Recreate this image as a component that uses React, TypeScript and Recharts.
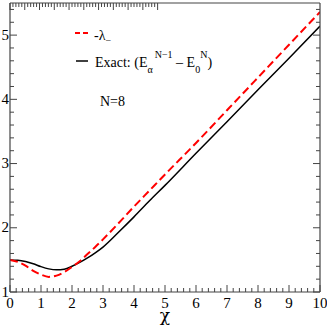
import React from 'react';
import { LineChart, Line, XAxis, YAxis } from 'recharts';

// chi values along the x axis
const chi = [0, 0.25, 0.5, 0.75, 1, 1.25, 1.5, 1.75, 2, 2.25, 2.5, 2.75, 3, 3.5, 4, 4.5, 5, 6, 7, 8, 9, 10];
// -lambda_ (red dashed)
const lambdaMinus = [1.5, 1.47, 1.41, 1.33, 1.27, 1.235, 1.255, 1.31, 1.39, 1.48, 1.59, 1.7, 1.82, 2.07, 2.33, 2.58, 2.83, 3.32, 3.83, 4.34, 4.85, 5.36];
// exact gap (black)
const exact = [1.5, 1.495, 1.475, 1.44, 1.395, 1.36, 1.345, 1.355, 1.4, 1.46, 1.53, 1.61, 1.7, 1.93, 2.17, 2.42, 2.66, 3.16, 3.65, 4.15, 4.64, 5.14];

const xMajor = [0, 1, 2, 3, 4, 5, 6, 7, 8, 9, 10];
const yMajor = [1, 2, 3, 4, 5];

const xTicks = Array.from({ length: 51 }, (_, i) => +(i * 0.2).toFixed(1));
const yTicks = Array.from({ length: 23 }, (_, i) => +(1 + i * 0.2).toFixed(1));

const data = chi.map((c, i) => ({ chi: c, lam: lambdaMinus[i], exact: exact[i] }));

const FONT = "'Liberation Serif', 'Times New Roman', serif";
const AXIS = '#444';

const isMajor = (v: number, majors: number[]) => majors.some((m) => Math.abs(m - v) < 1e-6);

const BottomTick = (props: any) => {
  const { x, y, payload } = props;
  const major = isMajor(payload.value, xMajor);
  return (
    <g>
      <line x1={x} x2={x} y1={y} y2={y - (major ? 7 : 4)} stroke={AXIS} strokeWidth={1} />
      {major && (
        <text x={x} y={y + 16} textAnchor="middle" fontSize={15} fontFamily={FONT} fill="#000">
          {payload.value}
        </text>
      )}
    </g>
  );
};

const TopTick = (props: any) => {
  const { x, y, payload } = props;
  const major = isMajor(payload.value, xMajor);
  return <line x1={x} x2={x} y1={y} y2={y + (major ? 7 : 4)} stroke={AXIS} strokeWidth={1} />;
};

const LeftTick = (props: any) => {
  const { x, y, payload } = props;
  const major = isMajor(payload.value, yMajor);
  return (
    <g>
      <line x1={x} x2={x + (major ? 7 : 4)} y1={y} y2={y} stroke={AXIS} strokeWidth={1} />
      {major && (
        <text x={x - 1} y={y + 4.5} textAnchor="end" fontSize={15} fontFamily={FONT} fill="#000">
          {payload.value}
        </text>
      )}
    </g>
  );
};

const RightTick = (props: any) => {
  const { x, y, payload } = props;
  const major = isMajor(payload.value, yMajor);
  return <line x1={x} x2={x - (major ? 7 : 4)} y1={y} y2={y} stroke={AXIS} strokeWidth={1} />;
};

const axisLine = { stroke: AXIS, strokeWidth: 1.2 };

export default function App() {
  return (
    <div style={{ position: 'absolute', left: 0, top: 0, width: 327, height: 327, background: '#fff', fontFamily: FONT }}>
      <LineChart width={327} height={327} data={data} margin={{ top: 2, right: 6, bottom: 34, left: 9 }}>
        <XAxis
          dataKey="chi"
          type="number"
          domain={[0, 10]}
          ticks={xTicks}
          interval={0}
          height={1}
          tickSize={0}
          tickMargin={0}
          tickLine={false}
          tick={<BottomTick />}
          axisLine={axisLine}
          allowDataOverflow
        />
        <XAxis
          xAxisId="top"
          orientation="top"
          type="number"
          domain={[0, 10]}
          ticks={xTicks}
          interval={0}
          height={1}
          tickSize={0}
          tickMargin={0}
          tickLine={false}
          tick={<TopTick />}
          axisLine={axisLine}
          allowDataOverflow
        />
        <YAxis
          type="number"
          domain={[1, 5.5]}
          ticks={yTicks}
          interval={0}
          width={1}
          tickSize={0}
          tickMargin={0}
          tickLine={false}
          tick={<LeftTick />}
          axisLine={axisLine}
          allowDataOverflow
        />
        <YAxis
          yAxisId="right"
          orientation="right"
          type="number"
          domain={[1, 5.5]}
          ticks={yTicks}
          interval={0}
          width={1}
          tickSize={0}
          tickMargin={0}
          tickLine={false}
          tick={<RightTick />}
          axisLine={axisLine}
          allowDataOverflow
        />
        <Line
          dataKey="exact"
          type="monotone"
          stroke="#000"
          strokeWidth={1.5}
          dot={false}
          isAnimationActive={false}
        />
        <Line
          dataKey="lam"
          type="monotone"
          stroke="#ff0000"
          strokeWidth={2}
          strokeDasharray="8 4"
          dot={false}
          isAnimationActive={false}
        />
      </LineChart>
      <svg width={327} height={327} fontFamily={FONT} style={{ position: 'absolute', left: 0, top: 0, pointerEvents: 'none' }}>
        <line x1={75} x2={88} y1={33} y2={33} stroke="#ff0000" strokeWidth={2} strokeDasharray="5 3" />
        <text x={94} y={40} fontSize={14} fill="#000">
          -λ<tspan fontSize={10} dy={4}>−</tspan>
        </text>
        <line x1={76} x2={88} y1={61} y2={61} stroke="#000" strokeWidth={1.5} />
        <text x={95} y={67} fontSize={14} fill="#000">
          Exact: (E
          <tspan fontSize={10} dy={6}>α</tspan>
          <tspan fontSize={10} dy={-15} dx={2}>N−1</tspan>
          <tspan dy={9}> – E</tspan>
          <tspan fontSize={10} dy={6}>0</tspan>
          <tspan fontSize={10} dy={-15}>N</tspan>
          <tspan dy={9}>)</tspan>
        </text>
        <text x={100} y={106} fontSize={14} fill="#000">
          N=8
        </text>
        <text x={165} y={321} textAnchor="middle" fontSize={17} fontFamily="'DejaVu Serif', serif" fill="#000">
          χ
        </text>
      </svg>
    </div>
  );
}
